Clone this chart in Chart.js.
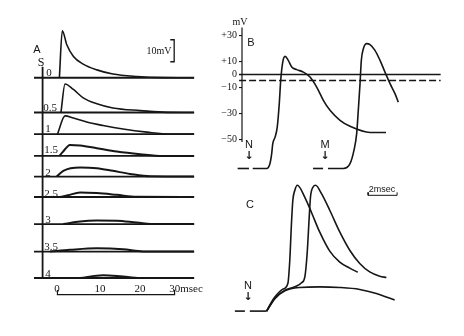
<!DOCTYPE html>
<html>
<head>
<meta charset="utf-8">
<script src="https://cdn.jsdelivr.net/npm/chart.js@4.4.1/dist/chart.umd.min.js"></script>
<style>
  body { margin: 0; background: #fff; }
  #page { position: relative; width: 464px; height: 336px; overflow: hidden; background: #fff; }
  canvas { position: absolute; }
  .t { position: absolute; transform: translate(-50%, -50%); line-height: 1; color: #161616; white-space: nowrap; }
  .serif { font-family: 'Liberation Serif', serif; font-size: 11px; }
  .sans { font-family: 'Liberation Sans', sans-serif; font-size: 11px; }
  .small { font-size: 9px; }
  .arrow { font-family: 'DejaVu Sans', sans-serif; font-size: 11px; font-weight: bold; }
</style>
</head>
<body>
<div id="page">
  <canvas id="chartA" width="164" height="275" style="left:34px;top:25px"></canvas>
  <canvas id="chartB" width="233" height="147" style="left:212px;top:25px"></canvas>
  <canvas id="chartC" width="168" height="135" style="left:232px;top:180px"></canvas>

  <!-- panel A -->
  <div class="t sans" style="left:37px;top:49px">A</div>
  <div class="t serif" style="left:41px;top:62px;font-size:12px">S</div>
  <div class="t serif" style="left:159px;top:51px;font-size:10px">10mV</div>
  <div class="t serif" style="left:49px;top:72px">0</div>
  <div class="t serif" style="left:50px;top:107px">0.5</div>
  <div class="t serif" style="left:48px;top:128px">1</div>
  <div class="t serif" style="left:51px;top:149px">1.5</div>
  <div class="t serif" style="left:48px;top:172px">2</div>
  <div class="t serif" style="left:51px;top:193px">2.5</div>
  <div class="t serif" style="left:48px;top:219px">3</div>
  <div class="t serif" style="left:51px;top:246px">3.5</div>
  <div class="t serif" style="left:48px;top:273px">4</div>
  <div class="t serif" style="left:57px;top:288px">0</div>
  <div class="t serif" style="left:100px;top:288px">10</div>
  <div class="t serif" style="left:140px;top:288px">20</div>
  <div class="t serif" style="left:186px;top:288px">30msec</div>

  <!-- panel B -->
  <div class="t serif" style="left:240px;top:22px;font-size:10px">mV</div>
  <div class="t sans" style="left:251px;top:42px">B</div>
  <div class="t sans" style="left:249px;top:144px">N</div>
  <div class="t arrow" style="left:249px;top:155px">↓</div>
  <div class="t sans" style="left:325px;top:144px">M</div>
  <div class="t arrow" style="left:325px;top:155px">↓</div>

  <!-- panel C -->
  <div class="t sans" style="left:250px;top:204px">C</div>
  <div class="t sans small" style="left:382px;top:189px">2msec</div>
  <div class="t sans" style="left:248px;top:285px">N</div>
  <div class="t arrow" style="left:248px;top:296px">↓</div>
</div>
<script>
// A: responses to stimuli of rising strength S, [msec, mV above own baseline]
const stimA = ['0', '0.5', '1', '1.5', '2', '2.5', '3', '3.5', '4'];
const respA0 = [[0.5, 0], [1.25, 21.4], [2.4, 15], [4.1, 9.7], [6.6, 6.2], [10.1, 3.6], [14.2, 1.7], [20.4, 0.6], [27, 0.1], [35, 0]];
const respA05 = [[0.9, 0], [1.95, 13], [4.1, 10.5], [6.6, 6.7], [10.1, 4.0], [14.2, 2.1], [21.2, 0.9], [27, 0.2], [35, 0]];
const respA1 = [[0, 0], [1.95, 8.3], [4.1, 7.3], [7.5, 5.5], [11.7, 3.9], [16.8, 2.3], [22.9, 0.9], [28.8, 0], [35, 0]];
const respA15 = [[0.5, 0], [1.4, 1.8], [3.2, 5], [5.8, 4.7], [10.1, 3.5], [15.2, 2.0], [21.2, 0.8], [27, 0], [35, 0]];
const respA2 = [[-0.2, 0], [1.5, 2.6], [5.8, 4.1], [10.1, 3.8], [14.2, 2.6], [18.6, 1.2], [23.7, 0.1], [35, 0]];
const respA25 = [[0.7, 0], [2.7, 0.8], [5.8, 2.1], [10.1, 1.8], [15.2, 1.0], [20.3, 0.1], [35, 0]];
const respA3 = [[1.5, 0], [5.8, 1.2], [10.1, 1.6], [15.2, 1.5], [20.3, 0.7], [25.4, 0], [35, 0]];
const respA35 = [[-1.9, 0], [3.2, 0.8], [10.1, 1.5], [16.8, 1.1], [21.9, 0.1], [35, 0]];
const respA4 = [[5.8, 0], [11.7, 1.2], [16, 0.8], [21.2, 0], [35, 0]];
const baseShiftA = [0, -15.8, -25.6, -35.5, -44.9, -54.2, -66.5, -79, -91];

// B: membrane potential, [msec, mV]
const tickB = [30, 10, 0, -10, -30, -50];
const restB = -72.3;
const dashLevelB = -4.6;
const respN = [[0.74, -72.3], [1.7, -72.3], [1.93, -68.4], [2.05, -60.7], [2.12, -53.3], [2.28, -48.2], [2.43, -40.5], [2.57, -22.5], [2.67, -4.6], [2.81, 9.5], [2.97, 13.9], [3.19, 10.8], [3.43, 5.7], [3.77, 3.7], [4.23, 1.8], [4.69, -2.0], [5.15, -9.7], [5.61, -19.9], [6.07, -27.6], [6.76, -35.3], [7.45, -39.9], [8.83, -44.6], [9.93, -44.6]];
const respM = [[5.93, -72.3], [6.99, -72.3], [7.45, -68.6], [7.72, -58.4], [7.91, -45.3], [8.02, -27.6], [8.14, -7.1], [8.23, 10.8], [8.37, 19.8], [8.6, 23.7], [8.83, 22.9], [9.17, 18.5], [9.52, 10.8], [9.86, 1.8], [10.21, -7.1], [10.55, -14.8], [10.78, -21.3]];

// C: three responses after stimulus N, [msec, mV above rest]
const respC1 = [[2.19, 0], [2.41, 4.6], [2.76, 10.8], [3.31, 16.9], [3.66, 21.5], [3.79, 39.2], [3.9, 66.2], [4.0, 85.4], [4.14, 93.1], [4.31, 96.9], [4.83, 87.7], [5.31, 75.4], [5.86, 60.8], [6.55, 46.2], [7.24, 37.7], [7.93, 33.1], [8.48, 30]];
const respC2 = [[2.19, 0], [2.76, 10], [3.45, 16.2], [4.14, 18.7], [4.6, 21.8], [4.83, 26.4], [4.99, 44.6], [5.12, 70], [5.22, 87.9], [5.4, 95.6], [5.57, 96.9], [5.98, 90.5], [6.55, 77.7], [7.24, 61], [7.93, 46.9], [8.62, 36.7], [9.31, 30.2], [10.0, 26.9], [10.46, 25.9]];
const respC3 = [[2.19, 0], [2.76, 9.5], [3.45, 15.6], [4.48, 18.2], [5.86, 18.7], [7.24, 18.2], [8.62, 16.7], [9.77, 13.6], [11.03, 8.5]];

const ink = '#161616';

const line = (pts, extra = {}) => ({
  data: pts.map(([x, y]) => ({ x, y })),
  borderColor: ink,
  borderWidth: 1.7,
  pointRadius: 0,
  clip: false,
  ...extra,
});
const smooth = { cubicInterpolationMode: 'monotone' };

function panel(id, datasets, xr, yr, yAxis) {
  return new Chart(document.getElementById(id), {
    type: 'line',
    data: { datasets },
    options: {
      responsive: false,
      animation: false,
      layout: { padding: 0 },
      plugins: { legend: { display: false }, tooltip: { enabled: false } },
      scales: {
        x: { type: 'linear', min: xr[0], max: xr[1], display: false },
        y: yAxis || { type: 'linear', min: yr[0], max: yr[1], display: false },
      },
    },
  });
}

// Panel A
const tracesA = [respA0, respA05, respA1, respA15, respA2, respA25, respA3, respA35, respA4];
const dsA = [];
tracesA.forEach((tr, i) => {
  const s = baseShiftA[i];
  dsA.push(line([[-6, s], [35, s]], { borderWidth: 1.9 }));
  dsA.push(line(tr.map(([t, v]) => [t, v + s]), { ...smooth, borderWidth: i < 3 ? 1.6 : 2 }));
});
dsA.push(line([[-3.8, 5], [-3.8, -91.4]], { borderWidth: 1.8 }));
// scale bars: 30 msec and 10 mV
dsA.push(line([[0, -96.4], [0, -98.6], [30, -98.6], [30, -96.4]], { borderWidth: 1.2 }));
dsA.push(line([[28.9, 17.3], [29.9, 17.3], [29.9, 7.3], [28.9, 7.3]], { borderWidth: 1.3 }));
panel('chartA', dsA, [-6, 36], [-101, 24]);

// Panel B
const dsB = [
  line([[-0.2, 0], [13.7, 0]], { borderWidth: 1.5 }),
  line([[-0.2, dashLevelB], [13.7, dashLevelB]], { borderWidth: 1.5, borderDash: [7, 3] }),
  line([[0, 36], [0, -52]], { borderWidth: 1.2 }),
  line([[-0.3, restB], [0.48, restB]], { borderWidth: 1.6 }),
  line([[4.9, restB], [5.59, restB]], { borderWidth: 1.6 }),
  line(respN, { ...smooth, borderWidth: 1.6 }),
  line(respM, { ...smooth, borderWidth: 1.6 }),
];
panel('chartB', dsB, [0, 14], null, {
  type: 'linear',
  min: -75,
  max: 38,
  border: { display: false },
  grid: { drawOnChartArea: false, drawTicks: true, tickLength: 3, tickColor: ink, lineWidth: 1.1 },
  ticks: {
    color: ink,
    padding: 2,
    font: { family: 'Liberation Serif', size: 10 },
    callback: (v) => (v > 0 ? '+' + v : v < 0 ? '\u2212' + Math.abs(v) : '0'),
  },
  afterBuildTicks: (s) => { s.ticks = tickB.map((v) => ({ value: v })); },
  afterFit: (s) => { s.width = 30; s.paddingTop = 0; s.paddingBottom = 0; },
});

// Panel C
const dsC = [
  line([[0, 0], [0.69, 0]], { borderWidth: 1.6 }),
  line([[1.03, 0], [2.19, 0]], { borderWidth: 1.6 }),
  line(respC1, { ...smooth, borderWidth: 1.6 }),
  line(respC2, { ...smooth, borderWidth: 1.6 }),
  line(respC3, { ...smooth, borderWidth: 1.6 }),
  // 2 msec scale bar
  line([[9.2, 91.5], [9.2, 89.2], [11.2, 89.2], [11.2, 91.5]], { borderWidth: 1 }),
];
panel('chartC', dsC, [-0.2, 11.4], [-3, 101]);
</script>
</body>
</html>
